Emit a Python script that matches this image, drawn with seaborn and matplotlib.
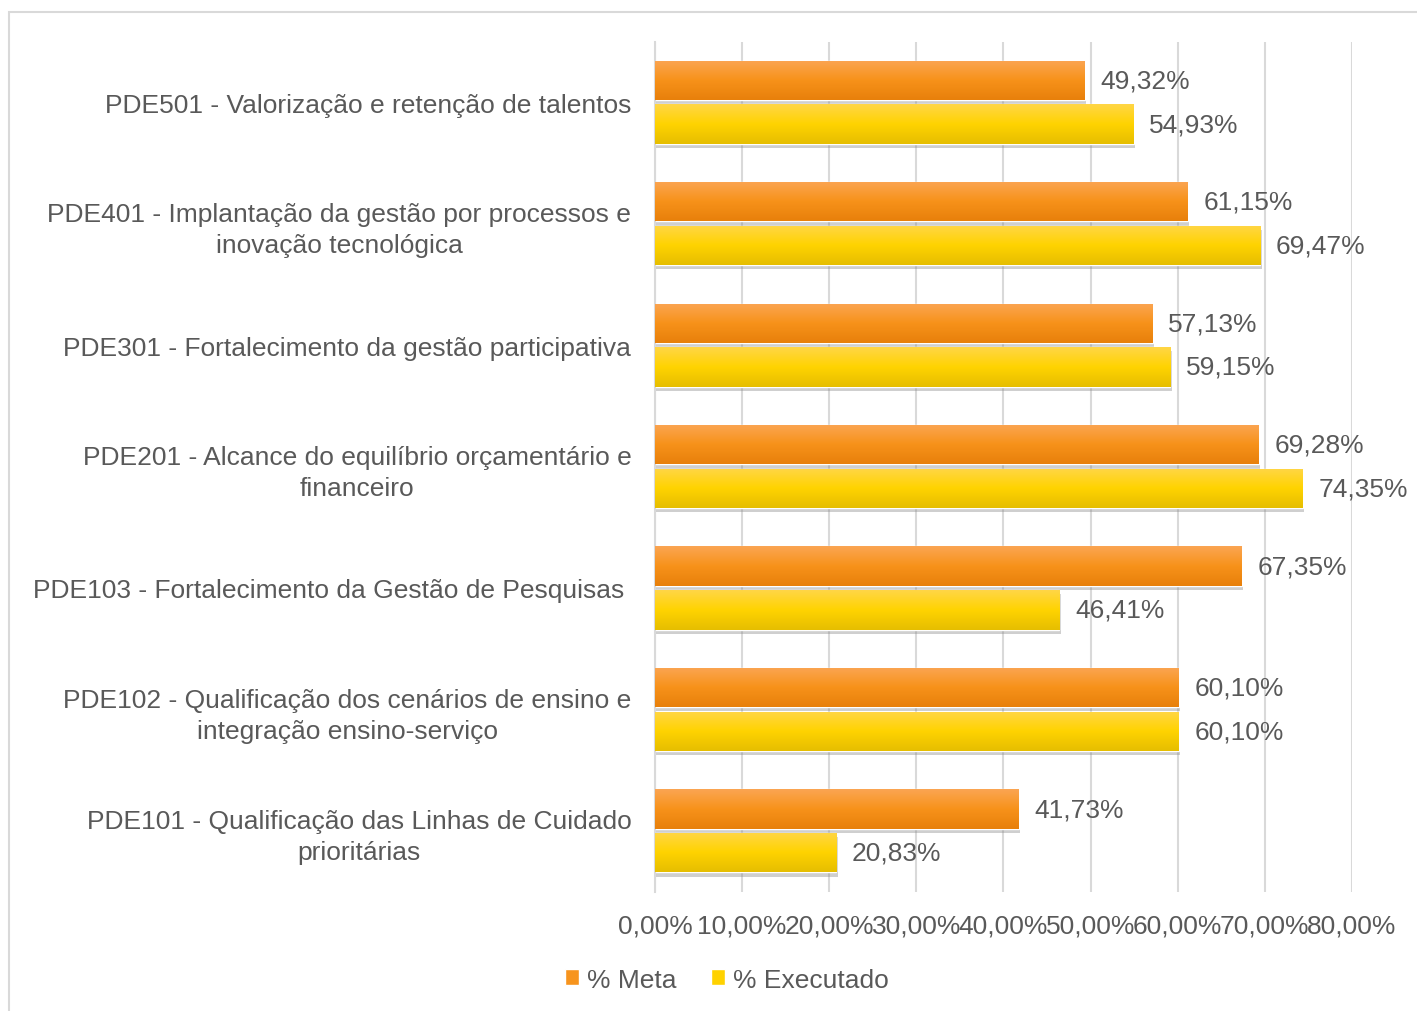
import numpy as np
import pandas as pd
import seaborn as sns
import matplotlib.pyplot as plt
import matplotlib.patheffects as pe
from matplotlib.colors import LinearSegmentedColormap
from matplotlib.patches import Rectangle

# data, top to bottom as in the chart
categories = [
    "PDE501 - Valorização e retenção de talentos",
    "PDE401 - Implantação da gestão por processos e\ninovação tecnológica",
    "PDE301 - Fortalecimento da gestão participativa",
    "PDE201 - Alcance do equilíbrio orçamentário e\nfinanceiro",
    "PDE103 - Fortalecimento da Gestão de Pesquisas ",
    "PDE102 - Qualificação dos cenários de ensino e\nintegração ensino-serviço",
    "PDE101 - Qualificação das Linhas de Cuidado\nprioritárias",
]
meta = [49.32, 61.15, 57.13, 69.28, 67.35, 60.10, 41.73]
executado = [54.93, 69.47, 59.15, 74.35, 46.41, 60.10, 20.83]
series = ["% Meta", "% Executado"]
x_ticks = [0, 10, 20, 30, 40, 50, 60, 70, 80]

df = pd.DataFrame({
    "cat": categories * 2,
    "serie": [series[0]] * 7 + [series[1]] * 7,
    "valor": meta + executado,
})

sns.set_style("white")
plt.rcParams['font.family'] = ['Liberation Sans', 'DejaVu Sans']
txt = "#595959"
grid_c = "#D9D9D9"
fs = 19
cols = {"% Meta": "#F7941D", "% Executado": "#FFD200"}
grads = {"% Meta": ["#FBA552", "#F7921A", "#E8800B"],
         "% Executado": ["#FFD646", "#FFD300", "#E6BE00"]}

fig = plt.figure(figsize=(14.17, 10.12), dpi=100)
ax = fig.add_axes([0.4622, 0.118, 0.4919, 0.840])

sns.barplot(data=df, y="cat", x="valor", hue="serie", orient="h",
            palette=cols, width=0.72, gap=0.1, ax=ax, legend=False)

ax.set_xticks(x_ticks)
ax.set_xticklabels([f"{t:.2f}%".replace(".", ",") for t in x_ticks],
                   fontsize=fs, color=txt)
ax.tick_params(axis="x", length=6, color=grid_c, width=1.5, pad=10)
ax.tick_params(axis="y", length=0, pad=17)
ax.set_yticks(range(7))
ax.set_yticklabels(categories, fontsize=fs, color=txt, linespacing=1.35,
                   ha="right", multialignment="center")
ax.xaxis.grid(True, color=grid_c, linewidth=1.5)
ax.set_axisbelow(True)
for s in ["top", "right", "bottom"]:
    ax.spines[s].set_visible(False)
ax.spines["left"].set_color(grid_c)
ax.spines["left"].set_linewidth(1.5)
ax.set_xlabel("")
ax.set_ylabel("")

# gradient fill + shadow + value labels
for cont, name in zip(ax.containers, series):
    cmap = LinearSegmentedColormap.from_list(name, grads[name])
    for bar in cont:
        x0, y0 = bar.get_x(), bar.get_y()
        w, h = bar.get_width(), bar.get_height()
        bar.set_path_effects([pe.SimplePatchShadow(offset=(1, -3), shadow_rgbFace="#888888", alpha=0.4),
                              pe.Normal()])
        grad = np.linspace(0, 1, 64).reshape(-1, 1)
        im = ax.imshow(grad, cmap=cmap, aspect="auto",
                       extent=[x0, x0 + w, y0 + h, y0], zorder=3,
                       interpolation="bicubic")
        im.set_clip_path(bar)
        ax.text(x0 + w + 1.8, y0 + h / 2, f"{w:.2f}%".replace(".", ","),
                va="center", ha="left", fontsize=fs, color=txt, zorder=4)
ax.set_xlim(0, 80)
ax.set_ylim(6.5, -0.5)

# legend
handles = [Rectangle((0, 0), 1, 1, facecolor=cols[s]) for s in series]
fig.legend(handles, series, loc="center", bbox_to_anchor=(0.513, 0.031),
           ncol=2, frameon=False, fontsize=fs, labelcolor=txt,
           handlelength=0.55, handleheight=0.55, handletextpad=0.3,
           columnspacing=1.3)

# outer border
fig.patches.append(Rectangle((9 / 1417, -0.05), 1.2, 1 - 13 / 1012 + 0.05,
                             transform=fig.transFigure, fill=False,
                             edgecolor=grid_c, linewidth=1.5))

fig.savefig("out.png", dpi=100)
